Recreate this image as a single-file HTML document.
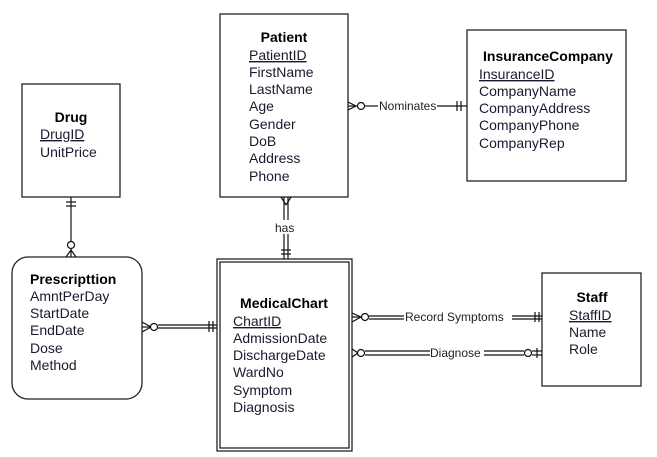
<!DOCTYPE html>
<html><head><meta charset="utf-8"><style>
html,body{margin:0;padding:0;background:#fff;}
svg{display:block;font-family:"Liberation Sans",Arial,sans-serif;font-size:14px;}
.t{font-weight:bold;}
.a{fill:#1a1a2e;}
</style></head><body>
<svg width="657" height="457" viewBox="0 0 657 457" xmlns="http://www.w3.org/2000/svg">
<g fill="none" stroke="#222" stroke-width="1.3">
<rect x="22" y="84" width="98" height="113"/>
<rect x="220" y="14" width="128" height="183"/>
<rect x="467" y="30" width="159" height="151"/>
<rect x="12" y="257" width="130" height="142" rx="16"/>
<rect x="217" y="259" width="135" height="192"/>
<rect x="220" y="262" width="129" height="186"/>
<rect x="542" y="273" width="99" height="113"/>
</g>
<g stroke="#111" stroke-width="1.2" fill="none">
<line x1="71" y1="197" x2="71" y2="241"/>
<line x1="66" y1="202" x2="76" y2="202"/><line x1="66" y1="206" x2="76" y2="206"/>
<circle cx="71" cy="245" r="3.5" fill="#fff"/>
<line x1="71" y1="249" x2="71" y2="257"/><line x1="71" y1="250" x2="66" y2="257"/><line x1="71" y1="250" x2="76" y2="257"/>
<line x1="284" y1="197" x2="284" y2="259"/><line x1="288" y1="197" x2="288" y2="259"/>
<line x1="281" y1="197" x2="286" y2="205"/><line x1="291" y1="197" x2="286" y2="205"/>
<line x1="281" y1="250" x2="291" y2="250"/><line x1="281" y1="254" x2="291" y2="254"/>
<line x1="364" y1="106" x2="378" y2="106"/><line x1="437" y1="106" x2="467" y2="106"/>
<line x1="348" y1="102" x2="356" y2="106"/><line x1="348" y1="110" x2="356" y2="106"/><line x1="348" y1="106" x2="357" y2="106"/>
<circle cx="361" cy="106" r="3.5" fill="#fff"/>
<line x1="457" y1="101" x2="457" y2="111"/><line x1="461" y1="101" x2="461" y2="111"/>
<line x1="158" y1="325" x2="217" y2="325"/><line x1="158" y1="328" x2="217" y2="328"/>
<line x1="142" y1="322" x2="151" y2="327"/><line x1="142" y1="332" x2="151" y2="327"/><line x1="142" y1="327" x2="151" y2="327"/>
<circle cx="154" cy="327" r="3.5" fill="#fff"/>
<line x1="209" y1="321" x2="209" y2="332"/><line x1="213" y1="321" x2="213" y2="332"/>
<line x1="369" y1="316" x2="404" y2="316"/><line x1="369" y1="319" x2="404" y2="319"/>
<line x1="512" y1="316" x2="542" y2="316"/><line x1="512" y1="319" x2="542" y2="319"/>
<line x1="352" y1="313" x2="361" y2="317"/><line x1="352" y1="322" x2="361" y2="317"/><line x1="352" y1="317" x2="361" y2="317"/>
<circle cx="365" cy="317" r="3.5" fill="#fff"/>
<line x1="535" y1="312" x2="535" y2="322"/><line x1="539" y1="312" x2="539" y2="322"/>
<line x1="365" y1="351" x2="430" y2="351"/><line x1="365" y1="355" x2="430" y2="355"/>
<line x1="484" y1="351" x2="524" y2="351"/><line x1="484" y1="355" x2="524" y2="355"/>
<line x1="532" y1="351" x2="542" y2="351"/><line x1="532" y1="355" x2="542" y2="355"/>
<line x1="352" y1="349" x2="358" y2="353"/><line x1="352" y1="357" x2="358" y2="353"/>
<circle cx="361" cy="353" r="3.5" fill="#fff"/>
<circle cx="528" cy="353" r="3.5" fill="#fff"/>
<line x1="537" y1="348" x2="537" y2="358"/>
</g>
<rect x="274" y="220" width="22" height="14" fill="#fff"/>
<g font-size="12" fill="#222">
<text x="275" y="232">has</text>
<text x="379" y="110">Nominates</text>
<text x="405" y="321">Record Symptoms</text>
<text x="430" y="357">Diagnose</text>
</g>
<g>
<text class="t" x="71" y="122" text-anchor="middle">Drug</text>
<text class="a" x="40" y="139" text-decoration="underline">DrugID</text>
<text class="a" x="40" y="157">UnitPrice</text>

<text class="t" x="284" y="42" text-anchor="middle">Patient</text>
<text class="a" x="249" y="60" text-decoration="underline">PatientID</text>
<text class="a" x="249" y="77">FirstName</text>
<text class="a" x="249" y="94">LastName</text>
<text class="a" x="249" y="111">Age</text>
<text class="a" x="249" y="129">Gender</text>
<text class="a" x="249" y="146">DoB</text>
<text class="a" x="249" y="163">Address</text>
<text class="a" x="249" y="181">Phone</text>

<text class="t" x="548" y="61" text-anchor="middle">InsuranceCompany</text>
<text class="a" x="479" y="79" text-decoration="underline">InsuranceID</text>
<text class="a" x="479" y="96">CompanyName</text>
<text class="a" x="479" y="113">CompanyAddress</text>
<text class="a" x="479" y="130">CompanyPhone</text>
<text class="a" x="479" y="148">CompanyRep</text>

<text class="t" x="30" y="284">Prescripttion</text>
<text class="a" x="30" y="301">AmntPerDay</text>
<text class="a" x="30" y="318">StartDate</text>
<text class="a" x="30" y="335">EndDate</text>
<text class="a" x="30" y="353">Dose</text>
<text class="a" x="30" y="370">Method</text>

<text class="t" x="284" y="308" text-anchor="middle">MedicalChart</text>
<text class="a" x="233" y="326" text-decoration="underline">ChartID</text>
<text class="a" x="233" y="343">AdmissionDate</text>
<text class="a" x="233" y="360">DischargeDate</text>
<text class="a" x="233" y="377">WardNo</text>
<text class="a" x="233" y="395">Symptom</text>
<text class="a" x="233" y="412">Diagnosis</text>

<text class="t" x="592" y="302" text-anchor="middle">Staff</text>
<text class="a" x="569" y="320" text-decoration="underline">StaffID</text>
<text class="a" x="569" y="337">Name</text>
<text class="a" x="569" y="354">Role</text>
</g>
</svg>
</body></html>
